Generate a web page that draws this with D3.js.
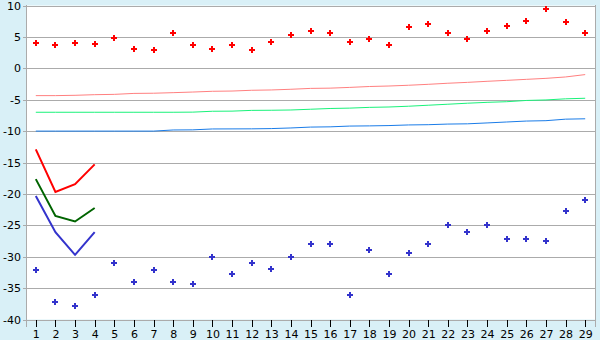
<!DOCTYPE html>
<html>
<head>
<meta charset="utf-8">
<script src="https://cdnjs.cloudflare.com/ajax/libs/d3/7.8.5/d3.min.js"></script>
<style>
	html, body { margin: 0; padding: 0; background: #d9f0f7; }
	svg { display: block; }
	text { font-family: "DejaVu Sans", Verdana, sans-serif; font-size: 11px; fill: #000; }
</style>
</head>
<body>
<div id="chart"></div>
<script>
(function() {
	"use strict";

	var categories = d3.range(1, 30);

	var yTicks = [10, 5, 0, -5, -10, -15, -20, -25, -30, -35, -40];

	var upperPoints = [4.0, 3.65, 4.0, 3.8, 4.8, 3.0, 2.86, 5.56, 3.65, 3.0,
		3.65, 2.86, 4.13, 5.3, 5.88, 5.56, 4.13, 4.6, 3.65, 6.5,
		7.0, 5.56, 4.6, 5.88, 6.8, 7.47, 9.4, 7.3, 5.56];

	var lowerPoints = [-32.1, -37.2, -37.8, -36.1, -31.0, -34.0, -32.1, -34.0, -34.3, -30.0,
		-32.75, -31.0, -32.0, -30.0, -28.0, -28.0, -36.1, -28.9, -32.75, -29.4,
		-28.0, -25.0, -26.1, -25.0, -27.2, -27.2, -27.5, -22.7, -21.0];

	var pinkTrend = [-4.35, -4.35, -4.3, -4.2, -4.15, -4.0, -3.97, -3.88, -3.78, -3.66,
		-3.62, -3.5, -3.45, -3.34, -3.2, -3.16, -3.04, -2.9, -2.82, -2.7,
		-2.55, -2.38, -2.24, -2.07, -1.92, -1.76, -1.6, -1.38, -1.0];

	var greenTrend = [-7.0, -7.0, -7.0, -7.0, -7.0, -7.0, -7.0, -7.0, -6.98, -6.84,
		-6.82, -6.7, -6.68, -6.64, -6.52, -6.4, -6.34, -6.22, -6.16, -6.04,
		-5.88, -5.72, -5.56, -5.42, -5.32, -5.12, -5.04, -4.86, -4.77];

	var blueTrend = [-10.0, -10.0, -10.0, -10.0, -10.0, -10.0, -10.0, -9.82, -9.8, -9.66,
		-9.65, -9.64, -9.6, -9.5, -9.36, -9.32, -9.2, -9.17, -9.12, -9.02,
		-8.98, -8.88, -8.84, -8.7, -8.55, -8.4, -8.34, -8.1, -8.04];

	var redShort = [-12.9, -19.7, -18.45, -15.3];
	var greenShort = [-17.65, -23.5, -24.4, -22.25];
	var blueShort = [-20.35, -26.1, -29.7, -26.1];

	var width = 600, height = 340;
	var plot = { left: 26, right: 595, top: 5.5, bottom: 319.5 };

	var x = d3.scalePoint()
		.domain(categories)
		.range([plot.left, plot.right])
		.padding(0.5);

	var y = d3.scaleLinear()
		.domain([-40, 10])
		.range([plot.bottom, plot.top]);

	var svg = d3.select('#chart')
		.append('svg')
		.attr('width', width)
		.attr('height', height);

	svg.append('rect')
		.attr('x', plot.left)
		.attr('y', plot.top)
		.attr('width', plot.right - plot.left)
		.attr('height', plot.bottom - plot.top)
		.attr('fill', '#ffffff');

	// horizontal grid
	svg.append('g')
		.selectAll('line')
		.data(yTicks)
		.enter()
		.append('line')
		.attr('x1', plot.left - 3)
		.attr('x2', plot.right)
		.attr('y1', function (d) { return Math.round(y(d)) + 0.5; })
		.attr('y2', function (d) { return Math.round(y(d)) + 0.5; })
		.attr('stroke', '#ababab')
		.attr('stroke-width', 1)
		.attr('shape-rendering', 'crispEdges');

	// left axis and right border
	[plot.left + 0.5, plot.right + 0.5].forEach(function (xPos) {
		svg.append('line')
			.attr('x1', xPos)
			.attr('x2', xPos)
			.attr('y1', plot.top - 0.5)
			.attr('y2', plot.bottom + 0.5)
			.attr('stroke', '#ababab')
			.attr('shape-rendering', 'crispEdges');
	});

	var yAxis = d3.axisLeft(y)
		.tickValues(yTicks)
		.tickFormat(function (d) { return String(d); })
		.tickSize(0)
		.tickPadding(4);

	var yAxisGroup = svg.append('g')
		.attr('transform', 'translate(' + (plot.left - 1) + ',0)')
		.call(yAxis);
	yAxisGroup.select('.domain').remove();
	yAxisGroup.selectAll('text')
		.style('font-family', '"DejaVu Sans", Verdana, sans-serif')
		.style('font-size', '11px')
		.attr('fill', '#000');

	var xAxis = d3.axisBottom(x)
		.tickSize(7)
		.tickPadding(3);

	var xAxisGroup = svg.append('g')
		.attr('transform', 'translate(0,' + (plot.bottom + 0.5) + ')')
		.call(xAxis);
	xAxisGroup.select('.domain')
		.attr('stroke', '#ababab')
		.attr('shape-rendering', 'crispEdges');
	xAxisGroup.selectAll('.tick line')
		.attr('stroke', '#000')
		.attr('shape-rendering', 'crispEdges');
	xAxisGroup.selectAll('text')
		.style('font-family', '"DejaVu Sans", Verdana, sans-serif')
		.style('font-size', '11px')
		.attr('fill', '#000');

	function drawLine(values, color, strokeWidth) {
		var line = d3.line()
			.x(function (d, i) { return x(categories[i]); })
			.y(function (d) { return y(d); });
		svg.append('path')
			.datum(values)
			.attr('d', line)
			.attr('fill', 'none')
			.attr('stroke', color)
			.attr('stroke-width', strokeWidth);
	}

	drawLine(pinkTrend, '#ff8080', 1);
	drawLine(greenTrend, '#19f27a', 1);
	drawLine(blueTrend, '#1a7ce8', 1);

	drawLine(redShort, '#ff0000', 2);
	drawLine(greenShort, '#006400', 2);
	drawLine(blueShort, '#3333cc', 2);

	// pixel plus markers: 6px across, 2px thick arms
	function plusPath(d, i) {
		var cx = Math.round(x(categories[i]));
		var cy = Math.round(y(d));
		return 'M' + (cx - 3) + ',' + (cy - 1) + 'h6v2h-6z' +
			'M' + (cx - 1) + ',' + (cy - 3) + 'h2v6h-2z';
	}

	function drawPoints(values, color) {
		svg.append('g')
			.selectAll('path')
			.data(values)
			.enter()
			.append('path')
			.attr('d', plusPath)
			.attr('fill', color)
			.attr('shape-rendering', 'crispEdges');
	}

	drawPoints(upperPoints, '#ff0000');
	drawPoints(lowerPoints, '#3333cc');
}());
</script>
</body>
</html>
